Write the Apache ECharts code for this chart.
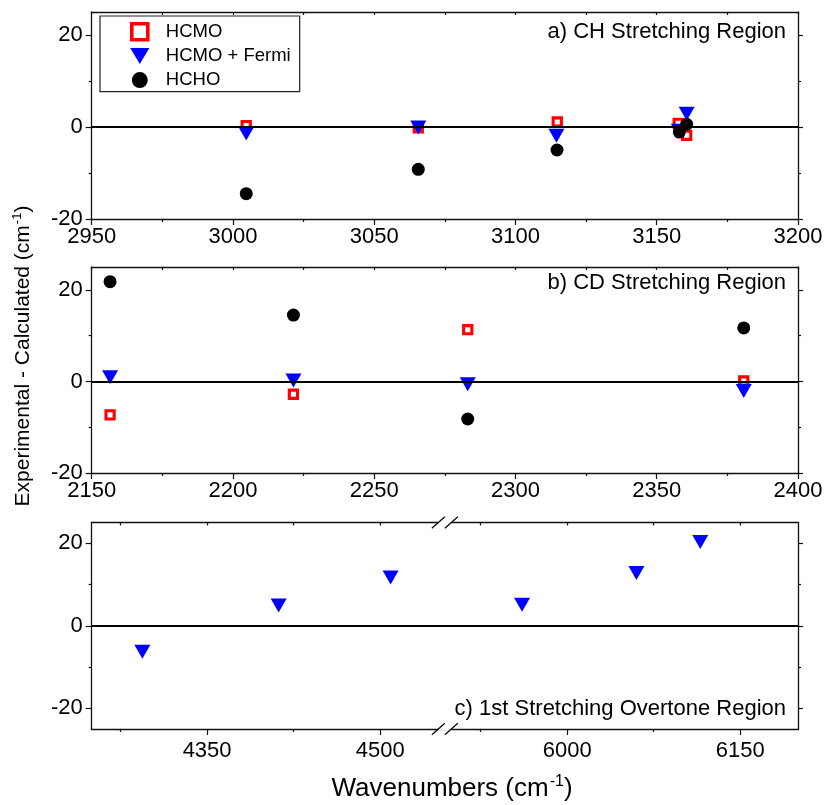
<!DOCTYPE html>
<html><head><meta charset="utf-8">
<script src="https://cdn.jsdelivr.net/npm/echarts@6/dist/echarts.min.js"></script>
<style>html,body{margin:0;padding:0;background:#fff}#c{width:825px;height:805px}</style>
</head><body><div id="c"></div>
<script>
// ---------- data ----------
const seriesNames = ['HCMO', 'HCMO + Fermi', 'HCHO'];
const panelLabels = ['a) CH Stretching Region', 'b) CD Stretching Region', 'c) 1st Stretching Overtone Region'];

// a) CH stretching region
const chHCMOx  = [3004.7, 3065.6, 3114.8, 3157.6, 3160.6];
const chHCMOy  = [0.3, -0.2, 1.1, 0.8, -1.8];
const chFermiX = [3004.7, 3065.6, 3114.5, 3157.8, 3160.6];
const chFermiY = [-1.4, -0.1, -1.9, -0.8, 2.9];
const chHCHOx  = [3004.7, 3065.6, 3114.7, 3158.0, 3160.6];
const chHCHOy  = [-14.5, -9.2, -5.0, -1.1, 0.6];

// b) CD stretching region
const cdX      = [2156.5, 2221.4, 2283.1, 2380.8];
const cdHCMOy  = [-7.3, -2.8, 11.3, 0.1];
const cdFermiY = [0.9, 0.2, -0.6, -2.1];
const cdHCHOy  = [21.8, 14.5, -8.2, 11.7];

// c) 1st stretching overtone region
const ovFermiX = [4293.9, 4412, 4509, 5960.9, 6060, 6115.3];
const ovFermiY = [-6.3, 4.9, 11.7, 5.1, 12.8, 20.3];

// axes
const xRangeA = [2950, 3200], xMajorA = [2950, 3000, 3050, 3100, 3150, 3200], xMinorA = [2975, 3025, 3075, 3125, 3175];
const xRangeB = [2150, 2400], xMajorB = [2150, 2200, 2250, 2300, 2350, 2400], xMinorB = [2175, 2225, 2275, 2325, 2375];
const xRangeC = [4250, 6200], xMajorC = [4350, 4500, 6000, 6150], xMinorC = [4275, 4425, 5925, 6075];
const xBreakC = [4556, 5894];
const yRangeAB = [-20, 25], yRangeC = [-25, 25];
const yMajor = [-20, 0, 20], yMinor = [-10, 10];

// ---------- styling ----------
const FONT = 'Liberation Sans, Arial, sans-serif';
const AX = '#111';
const plain = v => String(v);
const grids = [
  {left: 91.7, right: 27, top: 12, height: 207},
  {left: 91.7, right: 27, top: 267, height: 206},
  {left: 91.7, right: 27, top: 522.5, height: 206.5}
].map(g => Object.assign({outerBoundsMode: 'none', containLabel: false, show: false}, g));

const xAxes = [], yAxes = [];
function addX(gi, range, major, minor, brk, labelMargin) {
  const base = {gridIndex: gi, type: 'value', min: range[0], max: range[1], splitLine: {show: false}, scale: true};
  if (brk) {
    base.breaks = [{start: brk[0], end: brk[1], gap: 0}];
    base.breakArea = {show: false};
  }
  const main = xAxes.length;
  xAxes.push(Object.assign({}, base, {position: 'bottom',
    axisLine: {show: true, onZero: false, lineStyle: {color: AX, width: 1.3}},
    axisTick: {show: true, customValues: major, length: 6, lineStyle: {color: AX, width: 1.2}},
    axisLabel: {show: true, customValues: major, formatter: plain, fontSize: 22, fontFamily: FONT, color: '#000', margin: labelMargin}
  }));
  xAxes.push(Object.assign({}, base, {position: 'bottom',
    axisLine: {show: false, onZero: false},
    axisTick: {show: true, customValues: minor, length: 3, lineStyle: {color: AX, width: 1.2}},
    axisLabel: {show: false}
  }));
  xAxes.push(Object.assign({}, base, {position: 'top',
    axisLine: {show: true, onZero: false, lineStyle: {color: AX, width: 1.3}},
    axisTick: {show: true, inside: true, customValues: major.concat(minor), length: 3, lineStyle: {color: AX, width: 1.2}},
    axisLabel: {show: false}
  }));
  return main;
}
function addY(gi, range) {
  const base = {gridIndex: gi, type: 'value', min: range[0], max: range[1], splitLine: {show: false}};
  const main = yAxes.length;
  yAxes.push(Object.assign({}, base, {position: 'left',
    axisLine: {show: true, onZero: false, lineStyle: {color: AX, width: 1.3}},
    axisTick: {show: true, customValues: yMajor, length: 6, lineStyle: {color: AX, width: 1.2}},
    axisLabel: {show: true, customValues: yMajor, formatter: plain, fontSize: 22, fontFamily: FONT, color: '#000', margin: 9}
  }));
  yAxes.push(Object.assign({}, base, {position: 'left',
    axisLine: {show: false, onZero: false},
    axisTick: {show: true, customValues: yMinor, length: 3, lineStyle: {color: AX, width: 1.2}},
    axisLabel: {show: false}
  }));
  yAxes.push(Object.assign({}, base, {position: 'right',
    axisLine: {show: true, onZero: false, lineStyle: {color: AX, width: 1.3}},
    axisTick: {show: true, customValues: yMajor, length: 5, lineStyle: {color: AX, width: 1.2}},
    axisLabel: {show: false}
  }));
  yAxes.push(Object.assign({}, base, {position: 'right',
    axisLine: {show: false, onZero: false},
    axisTick: {show: true, customValues: yMinor, length: 3, lineStyle: {color: AX, width: 1.2}},
    axisLabel: {show: false}
  }));
  return main;
}
const xa = addX(0, xRangeA, xMajorA, xMinorA, null, 7), ya = addY(0, yRangeAB);
const xb = addX(1, xRangeB, xMajorB, xMinorB, null, 7), yb = addY(1, yRangeAB);
const xc = addX(2, xRangeC, xMajorC, xMinorC, xBreakC, 11), yc = addY(2, yRangeC);

const zip = (xs, ys) => xs.map((x, i) => [x, ys[i]]);
const triPath = 'path://M0,0L10,0L5,10Z';
const triLegendPath = 'path://M0,0L12,0L6,10Z';
const sqPath = 'path://M0,0L10,0L10,10L0,10Z';
const styles = {
  'HCMO': {symbol: sqPath, symbolSize: 8.2, symbolKeepAspect: true, itemStyle: {color: '#fff', borderColor: '#ff0000', borderWidth: 3.1, opacity: 1}, z: 2},
  'HCMO + Fermi': {symbol: triPath, symbolSize: [16, 14], symbolKeepAspect: false, itemStyle: {color: '#0000ff', opacity: 1}, z: 3},
  'HCHO': {symbol: 'circle', symbolSize: 13, itemStyle: {color: '#000', opacity: 1}, z: 4}
};
const zeroLine = {silent: true, symbol: 'none', label: {show: false},
  lineStyle: {color: '#000', width: 2, type: 'solid'}, emphasis: {disabled: true}, data: [{yAxis: 0}], animation: false};
function sc(name, xi, yi, data, withZero) {
  const s = Object.assign({type: 'scatter', name, xAxisIndex: xi, yAxisIndex: yi, data, animation: false,
    emphasis: {disabled: true}}, styles[name]);
  if (withZero) s.markLine = zeroLine;
  return s;
}
const series = [
  sc('HCMO', xa, ya, zip(chHCMOx, chHCMOy), true),
  sc('HCMO + Fermi', xa, ya, zip(chFermiX, chFermiY)),
  sc('HCHO', xa, ya, zip(chHCHOx, chHCHOy)),
  sc('HCMO', xb, yb, zip(cdX, cdHCMOy), true),
  sc('HCMO + Fermi', xb, yb, zip(cdX, cdFermiY)),
  sc('HCHO', xb, yb, zip(cdX, cdHCHOy)),
  sc('HCMO + Fermi', xc, yc, zip(ovFermiX, ovFermiY), true)
];

const chart = echarts.init(document.getElementById('c'), null, {renderer: 'canvas'});
chart.setOption({
  backgroundColor: '#fff',
  animation: false,
  grid: grids,
  xAxis: xAxes,
  yAxis: yAxes,
  legend: {
    data: [
      {name: seriesNames[0], itemStyle: {borderWidth: 3.6}},
      {name: seriesNames[1], icon: triLegendPath},
      {name: seriesNames[2]}
    ],
    orient: 'vertical', left: 100, top: 16,
    borderColor: '#222', borderWidth: 1.2, backgroundColor: '#fff',
    padding: [6, 9, 2, 30], itemGap: 5, itemWidth: 42, itemHeight: 16,
    symbolKeepAspect: true,
    selectedMode: false,
    textStyle: {fontSize: 18.5, fontFamily: FONT, color: '#000'}
  },
  series
});

// annotations
const sup = (size) => ({
  a: {fontSize: size, fontFamily: FONT, color: '#000'},
  s: {fontSize: Math.round(size * 0.6), fontFamily: FONT, color: '#000', padding: [0, 0, Math.round(size * 0.55), 1]}
});
const graphics = [];
const labelY = [32, 283, 709];
panelLabels.forEach((t, i) => graphics.push({type: 'text', z: 50, x: 786, y: labelY[i],
  style: {text: t, fontSize: 22, fontFamily: FONT, fill: '#000', align: 'right', verticalAlign: 'middle'}}));
graphics.push({type: 'text', z: 50, x: 23, y: 356, rotation: Math.PI / 2,
  style: {text: '{a|Experimental - Calculated (cm}{s|-1}{a|)}', rich: sup(21), align: 'center', verticalAlign: 'middle'}});
graphics.push({type: 'text', z: 50, x: 452, y: 789,
  style: {text: '{a|Wavenumbers (cm}{s|-1}{a|)}', rich: sup(26), align: 'center', verticalAlign: 'middle'}});

// axis-break marks on panel c, located through the axis scale
const bx = chart.convertToPixel({xAxisIndex: xc}, xBreakC[0]);
const yTop = chart.convertToPixel({yAxisIndex: yc}, yRangeC[1]);
const yBot = chart.convertToPixel({yAxisIndex: yc}, yRangeC[0]);
[yTop, yBot].forEach(yy => {
  graphics.push({type: 'rect', z: 60, shape: {x: bx - 6.5, y: yy - 1.6, width: 13, height: 3.2}, style: {fill: '#fff'}});
  [-6.5, 6.5].forEach(d => graphics.push({type: 'line', z: 61,
    shape: {x1: bx + d - 6.5, y1: yy + 5.8, x2: bx + d + 6.5, y2: yy - 5.8}, style: {stroke: '#000', lineWidth: 1.2}}));
});
chart.setOption({graphic: graphics});
</script></body></html>
